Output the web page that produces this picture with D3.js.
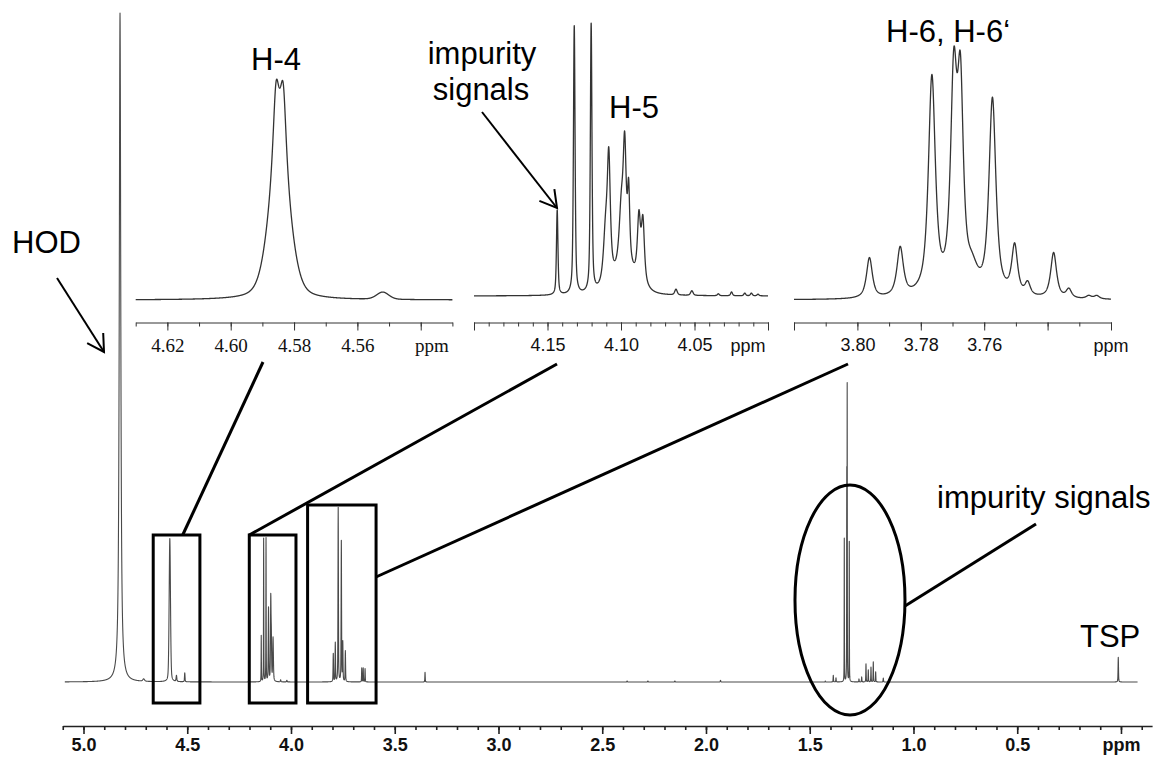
<!DOCTYPE html>
<html>
<head>
<meta charset="utf-8">
<script src="https://cdn.jsdelivr.net/npm/d3@7"></script>
<style>
  body { margin: 0; background: #fff; }
  svg { display: block; }
</style>
</head>
<body>
<svg width="1157" height="758"></svg>
<script>
const width = 1157
const height = 758

// peak tables: [shift (ppm), intensity, line width (ppm), lorentzian fraction]
// full spectrum, intensity in % of the HOD signal
const fullPeaks = [
  [4.824, 100, 0.0085, 0.85],
  [4.71, 0.35, 0.01, 0.5],
  [4.584, 21.4, 0.0075, 0.3],
  [4.552, 0.9, 0.004, 0.5],
  [4.512, 1.35, 0.003, 0.5],
  [4.1434, 6.9, 0.0015, 0.6],
  [4.1318, 21.4, 0.0015, 0.6],
  [4.1203, 21.4, 0.0015, 0.6],
  [4.1083, 11.0, 0.003, 0.5],
  [4.0975, 12.0, 0.003, 0.5],
  [4.0948, 6.0, 0.003, 0.5],
  [4.0865, 6.5, 0.004, 0.5],
  [4.05, 0.3, 0.003, 0.5],
  [4.02, 0.25, 0.003, 0.5],
  [3.7962, 4.2, 0.0025, 0.5],
  [3.7865, 5.8, 0.0025, 0.5],
  [3.7725, 26, 0.0025, 0.5],
  [3.7574, 21, 0.0025, 0.5],
  [3.7504, 5.8, 0.0025, 0.5],
  [3.738, 4.6, 0.0025, 0.5],
  [3.659, 2.1, 0.002, 0.5],
  [3.652, 2.1, 0.002, 0.5],
  [3.643, 2.0, 0.002, 0.5],
  [3.354, 1.45, 0.002, 0.5],
  [2.38, 0.15, 0.003, 0.5],
  [2.28, 0.15, 0.003, 0.5],
  [2.15, 0.15, 0.003, 0.5],
  [1.93, 0.25, 0.003, 0.5],
  [1.425, 0.15, 0.002, 0.5],
  [1.3865, 1.0, 0.002, 0.5],
  [1.3735, 0.6, 0.002, 0.5],
  [1.3335, 21.4, 0.0012, 0.6],
  [1.3215, 30, 0.0012, 0.6],
  [1.3195, 43.2, 0.0012, 0.6],
  [1.3094, 20.9, 0.0012, 0.6],
  [1.2627, 0.45, 0.002, 0.5],
  [1.2496, 0.75, 0.002, 0.5],
  [1.2289, 2.7, 0.002, 0.5],
  [1.2178, 1.8, 0.002, 0.5],
  [1.2048, 2.2, 0.002, 0.5],
  [1.1937, 3.0, 0.002, 0.5],
  [1.1822, 1.5, 0.002, 0.5],
  [1.1455, 0.6, 0.002, 0.5],
  [0.013, 3.7, 0.0025, 0.5]
]

// expansions, intensity in % of the tallest line in each window
const h4Peaks = [
  [4.5846, 64.5, 0.0075, 0.3],
  [4.5857, 33.4, 0.0022, 0.8],
  [4.5834, 33.4, 0.0022, 0.8],
  [4.552, 3.3, 0.0045, 0.2]
]

const h5Peaks = [
  [4.1434, 31.3, 0.0012, 0.6],
  [4.1318, 99, 0.0013, 0.6],
  [4.1203, 99, 0.0013, 0.6],
  [4.1105, 18.3, 0.0035, 0.8],
  [4.1083, 43.7, 0.0025, 0.8],
  [4.0998, 21, 0.0035, 0.8],
  [4.0975, 42, 0.0025, 0.8],
  [4.0948, 26.4, 0.0018, 0.8],
  [4.0878, 23, 0.0025, 0.8],
  [4.0851, 23, 0.0025, 0.8],
  [4.097, 8, 0.018, 0.3],
  [4.0626, 2.1, 0.002, 0.5],
  [4.0518, 1.7, 0.002, 0.5],
  [4.0338, 0.7, 0.0015, 0.5],
  [4.0248, 1.4, 0.0015, 0.5],
  [4.0158, 1.0, 0.0015, 0.5],
  [4.0113, 1.0, 0.0015, 0.5],
  [4.0068, 0.6, 0.0015, 0.5]
]

const h6Peaks = [
  [3.7962, 16, 0.0022, 0.8],
  [3.7865, 19.3, 0.0024, 0.8],
  [3.7765, 86, 0.0026, 0.8],
  [3.7696, 82, 0.0024, 0.8],
  [3.7675, 76, 0.0022, 0.8],
  [3.7639, 8, 0.004, 0.5],
  [3.7574, 78, 0.0026, 0.8],
  [3.7504, 19.5, 0.0022, 0.8],
  [3.7463, 5, 0.002, 0.8],
  [3.7381, 18, 0.0022, 0.8],
  [3.7333, 3.5, 0.002, 0.8],
  [3.727, 1.2, 0.002, 0.8],
  [3.7245, 1.3, 0.002, 0.8]
]

// tick labels
const fullTicks = [5.0, 4.5, 4.0, 3.5, 3.0, 2.5, 2.0, 1.5, 1.0, 0.5, 0]
const h4Ticks = [4.62, 4.60, 4.58, 4.56]
const h5Ticks = [4.15, 4.10, 4.05]
const h6Ticks = [3.80, 3.78, 3.76]

const sans = '"Liberation Sans", Arial, sans-serif'
const serif = '"Liberation Serif", "Times New Roman", serif'

const svg = d3.select('svg')

// pseudo-voigt sum of all lines at a given shift
const shape = (ppm, peaks) => d3.sum(peaks, ([c, h, w, eta]) => {
  const r = (ppm - c) / w
  return h * (eta / (1 + 4 * r * r) + (1 - eta) * Math.exp(-4 * Math.LN2 * r * r))
})

// regular grid plus extra points around every line so sharp tops are kept
function spectrum(lo, hi, step, peaks) {
  const xs = d3.range(lo, hi, step).concat([hi])
  peaks.forEach(([c, , w]) => {
    [-2, -1, -0.5, -0.25, 0, 0.25, 0.5, 1, 2].forEach(k => {
      const p = c + k * w
      if (p > lo && p < hi) xs.push(p)
    })
  })
  return xs.sort((a, b) => b - a).map(p => [p, shape(p, peaks)])
}

function drawTrace(x, y, data, color, lw) {
  const line = d3.line()
    .x(d => x(d[0]))
    .y(d => y(d[1]))
  svg.append('path')
    .datum(data)
    .attr('d', line)
    .attr('fill', 'none')
    .attr('stroke', color)
    .attr('stroke-width', lw)
    .attr('stroke-linejoin', 'round')
}

// axis with minor ticks every 0.01 (or 0.1) and longer major ticks
function drawAxis(x, y0, minor, major, labels, fmt, font, size, weight, color, lw, pad) {
  const g = svg.append('g').attr('transform', `translate(0,${y0})`)
  g.append('g')
    .call(d3.axisBottom(x).tickValues(minor).tickSize(4).tickSizeOuter(0).tickFormat(''))
  const lab = new Set(labels.map(v => v.toFixed(3)))
  g.append('g')
    .call(d3.axisBottom(x).tickValues(major).tickSize(8).tickSizeOuter(0).tickPadding(pad)
      .tickFormat(v => lab.has(v.toFixed(3)) ? fmt(v) : ''))
    .call(a => a.select('.domain').remove())
  g.selectAll('path, line').attr('stroke', color).attr('stroke-width', lw)
  g.selectAll('text')
    .attr('fill', '#111')
    .style('font-family', font)
    .style('font-size', size + 'px')
    .style('font-weight', weight)
  return g
}

// full spectrum
const xFull = d3.scaleLinear().domain([5.1, -0.15]).range([62.75, 1152.1])
const yFull = d3.scaleLinear().domain([0, 100]).range([682, 13])
drawTrace(xFull, yFull, spectrum(-0.08, 5.09, 0.0005, fullPeaks), '#4a4a4a', 1.1)

drawAxis(xFull, 726,
  d3.range(51, -2, -1).map(v => v / 10),
  fullTicks, fullTicks,
  v => v === 0 ? 'ppm' : d3.format('.1f')(v),
  sans, 18, 'bold', '#222', 1.6, 4)

// expansions
const x4 = d3.scaleLinear().domain([4.63, 4.53]).range([135.7, 452.4])
const y4 = d3.scaleLinear().domain([0, 100]).range([300, 80])
drawTrace(x4, y4, spectrum(4.53, 4.63, 0.00005, h4Peaks), '#333', 1.3)
drawAxis(x4, 322.5,
  d3.range(463, 452, -1).map(v => v / 100),
  d3.range(462, 452, -2).map(v => v / 100),
  h4Ticks, d3.format('.2f'), serif, 19, 'normal', '#333', 1, 8)

const x5 = d3.scaleLinear().domain([4.20, 4.00]).range([474, 768])
const y5 = d3.scaleLinear().domain([0, 100]).range([296, 25])
drawTrace(x5, y5, spectrum(4.0, 4.2, 0.00005, h5Peaks), '#333', 1.3)
drawAxis(x5, 322.5,
  d3.range(420, 399, -1).map(v => v / 100),
  d3.range(420, 399, -5).map(v => v / 100),
  h5Ticks, d3.format('.2f'), sans, 18, 'normal', '#333', 1, 8)

const x6 = d3.scaleLinear().domain([3.82, 3.72]).range([794, 1111])
const y6 = d3.scaleLinear().domain([0, 100]).range([300, 48])
drawTrace(x6, y6, spectrum(3.72, 3.82, 0.00005, h6Peaks), '#333', 1.3)
drawAxis(x6, 322.5,
  d3.range(382, 371, -1).map(v => v / 100),
  d3.range(382, 371, -2).map(v => v / 100),
  h6Ticks, d3.format('.2f'), sans, 18, 'normal', '#333', 1, 8)

// unit labels under the expansions
svg.append('text').text('ppm')
  .attr('x', 432).attr('y', 352).attr('text-anchor', 'middle')
  .style('font-family', serif).style('font-size', '19px').attr('fill', '#111')
svg.append('text').text('ppm')
  .attr('x', 748).attr('y', 352).attr('text-anchor', 'middle')
  .style('font-family', sans).style('font-size', '18px').attr('fill', '#111')
svg.append('text').text('ppm')
  .attr('x', 1111).attr('y', 352).attr('text-anchor', 'middle')
  .style('font-family', sans).style('font-size', '18px').attr('fill', '#111')

// boxes around the expanded regions
const boxes = [
  { from: 4.664, to: 4.439, top: 535 },
  { from: 4.201, to: 3.976, top: 535 },
  { from: 3.92, to: 3.59, top: 505 }
]
svg.selectAll('rect.box')
  .data(boxes)
  .enter().append('rect')
  .attr('class', 'box')
  .attr('x', d => xFull(d.from))
  .attr('y', d => d.top)
  .attr('width', d => xFull(d.to) - xFull(d.from))
  .attr('height', d => 703 - d.top)
  .attr('fill', 'none')
  .attr('stroke', '#000')
  .attr('stroke-width', 3)

// ellipse round the impurity cluster
svg.append('ellipse')
  .attr('cx', xFull(1.306)).attr('cy', 600)
  .attr('rx', 55).attr('ry', 115)
  .attr('fill', 'none').attr('stroke', '#000').attr('stroke-width', 3)

// connector lines
const links = [
  [182.7, 535, 263, 362],
  [249.3, 535, 557, 364],
  [376, 577, 848, 364],
  [905, 606, 1036, 524]
]
svg.selectAll('line.link')
  .data(links)
  .enter().append('line')
  .attr('class', 'link')
  .attr('x1', d => d[0]).attr('y1', d => d[1])
  .attr('x2', d => d[2]).attr('y2', d => d[3])
  .attr('stroke', '#000').attr('stroke-width', 3)

// open arrow heads
function arrow(x1, y1, x2, y2) {
  const a = Math.atan2(y2 - y1, x2 - x1)
  const len = 19
  const spread = Math.PI / 6
  const g = svg.append('g').attr('stroke', '#000').attr('stroke-width', 2).attr('fill', 'none')
  g.append('line').attr('x1', x1).attr('y1', y1).attr('x2', x2).attr('y2', y2)
  g.append('path').attr('d', `M${x2 - len * Math.cos(a - spread)},${y2 - len * Math.sin(a - spread)}L${x2},${y2}L${x2 - len * Math.cos(a + spread)},${y2 - len * Math.sin(a + spread)}`)
}
arrow(57, 278, 104, 352)
arrow(482, 112, 557, 208)

// annotations
const notes = [
  { t: 'HOD', x: 12, y: 253, anchor: 'start' },
  { t: 'H-4', x: 276, y: 70, anchor: 'middle' },
  { t: 'impurity', x: 482, y: 64, anchor: 'middle' },
  { t: 'signals', x: 481, y: 100, anchor: 'middle' },
  { t: 'H-5', x: 609, y: 118, anchor: 'start' },
  { t: 'H-6, H-6\u2018', x: 886, y: 42, anchor: 'start' },
  { t: 'impurity signals', x: 937, y: 508, anchor: 'start' },
  { t: 'TSP', x: 1080, y: 647, anchor: 'start' }
]
svg.selectAll('text.note')
  .data(notes)
  .enter().append('text')
  .attr('class', 'note')
  .text(d => d.t)
  .attr('x', d => d.x)
  .attr('y', d => d.y)
  .attr('text-anchor', d => d.anchor)
  .attr('fill', '#000')
  .style('font-family', sans)
  .style('font-size', '31px')
</script>
</body>
</html>
